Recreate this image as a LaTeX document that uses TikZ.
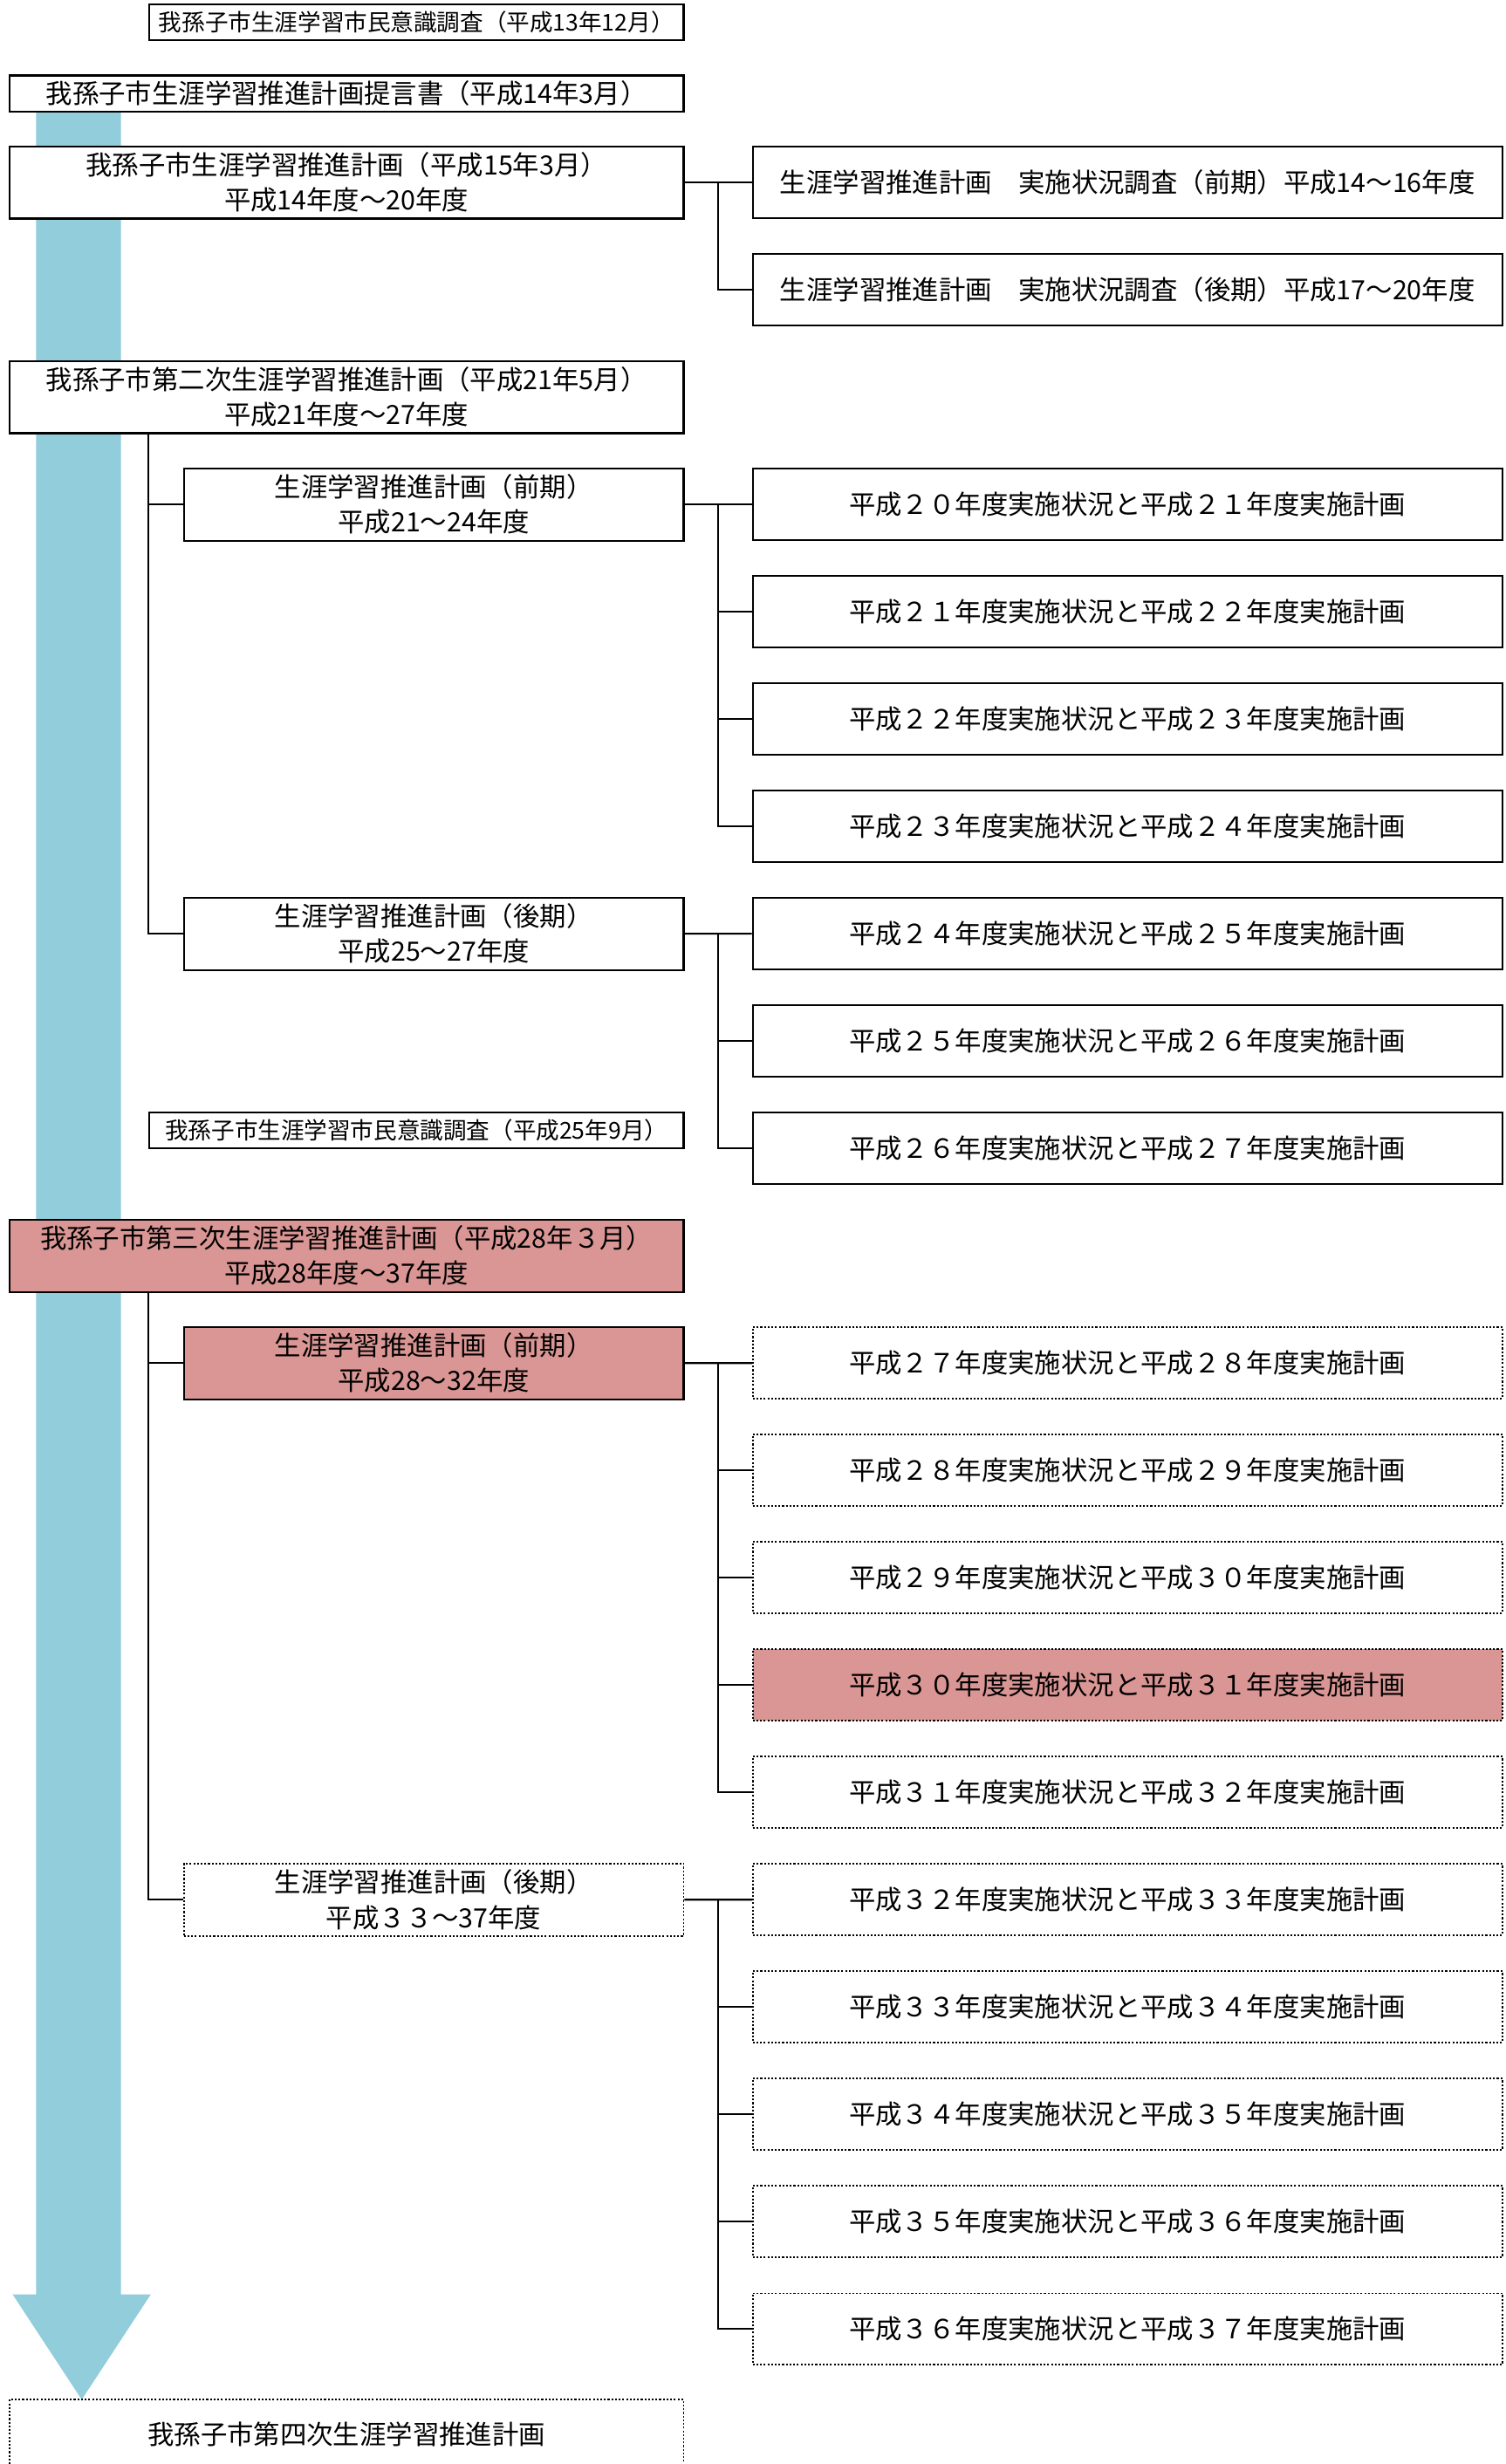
\documentclass[tikz,border=0pt]{standalone}
\usepackage{fontspec}
\setmainfont{Noto Sans CJK JP}
\usetikzlibrary{calc}
\definecolor{barblue}{HTML}{92CDDC}
\definecolor{planpink}{HTML}{D99694}

\tikzset{
  box/.style = {draw, line width=1pt, fill=white, inner sep=0pt, align=center,
    font=\fontsize{14.4}{19}\selectfont},
  smallbox/.style = {box, minimum width=10.2cm, minimum height=0.68cm,
    font=\fontsize{12.6}{16}\selectfont},
  planbox/.style = {box, minimum width=12.87cm, minimum height=1.38cm},
  halfbox/.style = {box, minimum width=9.54cm, minimum height=1.38cm},
  rbox/.style = {box, minimum width=14.31cm, minimum height=1.365cm},
  solidbox/.style = {},
  dotbox/.style = {densely dotted, line width=0.8pt},
  dotpink/.style = {dotbox, fill=planpink},
  link/.style = {line width=1pt}
}

\begin{document}
\begin{tikzpicture}[x=0.03cm, y=-0.03cm]
\useasboundingbox (0,0) rectangle (958,1568);

% the time arrow
\fill[barblue] (23,71) -- (77,71) -- (77,1460) -- (96,1460) -- (52,1527)
  -- (8,1460) -- (23,1460) -- cycle;

\node[smallbox] (surv1) at (265,14) {我孫子市生涯学習市民意識調査（平成13年12月）};
\node[planbox, minimum height=0.69cm] (prop) at (220.5,59.5) {我孫子市生涯学習推進計画提言書（平成14年3月）};
\node[planbox] (plan1) at (220.5,116.1) {我孫子市生涯学習推進計画（平成15年3月）\\平成14年度～20年度};
\node[planbox] (plan2) at (220.5,252.7) {我孫子市第二次生涯学習推進計画（平成21年5月）\\平成21年度～27年度};
\node[halfbox] (p2a) at (276,321) {生涯学習推進計画（前期）\\平成21～24年度};
\node[halfbox] (p2b) at (276,594.2) {生涯学習推進計画（後期）\\平成25～27年度};
\node[smallbox] (surv2) at (265,719.5) {我孫子市生涯学習市民意識調査（平成25年9月）};
\node[planbox, fill=planpink] (plan3) at (220.5,799.1) {我孫子市第三次生涯学習推進計画（平成28年３月）\\平成28年度～37年度};
\node[halfbox, fill=planpink] (p3a) at (276,867.4) {生涯学習推進計画（前期）\\平成28～32年度};
\node[halfbox, dotbox] (p3b) at (276,1208.9) {生涯学習推進計画（後期）\\平成３３～37年度};
\node[planbox, dotbox, minimum height=1.32cm] (plan4) at (220.5,1549) {我孫子市第四次生涯学習推進計画};

% first plan surveys
\node[rbox] (chk1) at (717.5,116.1) {生涯学習推進計画　実施状況調査（前期）平成14～16年度};
\node[rbox] (chk2) at (717.5,184.4) {生涯学習推進計画　実施状況調査（後期）平成17～20年度};

% yearly reports
\foreach \n/\ya/\yb/\st in {0/２０/２１/solidbox, 1/２１/２２/solidbox, 2/２２/２３/solidbox,
    3/２３/２４/solidbox, 4/２４/２５/solidbox, 5/２５/２６/solidbox, 6/２６/２７/solidbox,
    8/２７/２８/dotbox, 9/２８/２９/dotbox, 10/２９/３０/dotbox, 11/３０/３１/dotpink,
    12/３１/３２/dotbox, 13/３２/３３/dotbox, 14/３３/３４/dotbox, 15/３４/３５/dotbox,
    16/３５/３６/dotbox, 17/３６/３７/dotbox} {
  \node[rbox,\st] (r\n) at (717.5,{321+68.3*\n}) {平成\ya 年度実施状況と平成\yb 年度実施計画};
}

% connectors
\draw[link] (plan1.east) -- (chk1.west);
\draw[link] ($(plan1.east)!.5!(chk1.west)$) |- (chk2.west);

\draw[link] ($(plan2.south west)+(89,0)$) |- (p2b.west);
\draw[link] ($(plan2.south west)+(89,0)$) |- (p2a.west);
\draw[link] ($(plan3.south west)+(89,0)$) |- (p3b.west);
\draw[link] ($(plan3.south west)+(89,0)$) |- (p3a.west);

\foreach \src/\a/\b/\mids in {p2a/0/3/{1,2}, p2b/4/6/{5}, p3a/8/12/{9,10,11}, p3b/13/17/{14,15,16}} {
  \coordinate (bus) at ($(\src.east)!.5!(r\a.west)$);
  \draw[link] (\src.east) -- (r\a.west);
  \draw[link] (bus) |- (r\b.west);
  \foreach \m in \mids
    \draw[link] (bus |- r\m.west) -- (r\m.west);
}
\end{tikzpicture}
\end{document}
